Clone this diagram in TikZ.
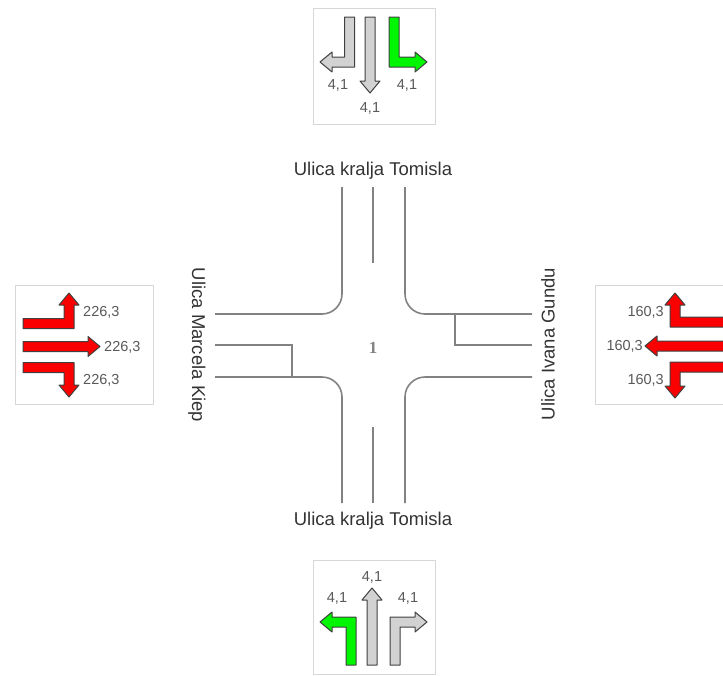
\documentclass[tikz,border=0pt]{standalone}
\usepackage{fontspec}
\setmainfont{Liberation Sans}
\newfontfamily\numfont{Liberation Serif}

\definecolor{roadgray}{RGB}{130,130,130}
\definecolor{boxgray}{RGB}{215,215,215}
\definecolor{lanegray}{RGB}{210,210,210}
\definecolor{lanegreen}{RGB}{0,245,0}
\definecolor{lanered}{RGB}{250,0,0}

\tikzset{
    road/.style={draw=roadgray, line width=1.6pt, rounded corners=20pt},
    lane/.style={draw=black!75, line width=1pt, line join=round},
    phasebox/.style={draw=boxgray, line width=1pt},
    street/.style={font=\fontsize{18.5}{21}\selectfont, text=black!80},
    flow/.style={font=\fontsize{14.5}{17}\selectfont, text=black!65, inner sep=0pt},
}

% straight lane arrow along +x, length #2
\newcommand{\lanestraight}[2]{\draw[lane,#1] (0,-5) -- ({#2-12},-5) -- ({#2-12},-10) -- (#2,0) -- ({#2-12},10) -- ({#2-12},5) -- (0,5) -- cycle;}
% turning lane arrow: #2 along +x, then #3 along +y
\newcommand{\laneturn}[3]{\draw[lane,#1] (0,-5) -- ({#2+5},-5) -- ({#2+5},{#3-12}) -- ({#2+10},{#3-12}) -- (#2,#3) -- ({#2-10},{#3-12}) -- ({#2-5},{#3-12}) -- ({#2-5},5) -- (0,5) -- cycle;}

\begin{document}
\begin{tikzpicture}[x=1pt, y=-1pt]
                \useasboundingbox (0,0) rectangle (723,675);
                \clip (0,0) rectangle (723,675);

                % roads
                \draw[road] (215,314) -- (342,314) -- (342,187);
                \draw[road] (405,187) -- (405,314) -- (532,314);
                \draw[road] (215,377) -- (342,377) -- (342,503);
                \draw[road] (532,377) -- (405,377) -- (405,503);
                \draw[road] (373,187) -- (373,263);
                \draw[road] (373,427) -- (373,503);
                \draw[road, rounded corners=0pt] (215,345) -- (292,345) -- (292,377);
                \draw[road, rounded corners=0pt] (455,314) -- (455,345) -- (532,345);

                \node[text=roadgray, font=\numfont\bfseries\fontsize{17}{19}\selectfont] (junction) at (373,348) {1};

                \node[street] (streetn) at (373,171) {Ulica kralja Tomisla};
                \node[street] (streets) at (373,521) {Ulica kralja Tomisla};
                \node[street, rotate=-90] (streetw) at (197,345) {Ulica Marcela Kiep};
                \node[street, rotate=90] (streete) at (548,344) {Ulica Ivana Gundu};

                % phase boxes
                \draw[phasebox] (313,8) rectangle (435,124);
                \draw[phasebox] (15,285) rectangle (153,404);
                \draw[phasebox] (595,285) rectangle (740,404);
                \draw[phasebox] (313,560) rectangle (435,674);

                % north approach
                \laneturn{fill=lanegray, shift={(349.5,17)}, rotate=-90}{45}{29.5}
                \lanestraight{fill=lanegray, shift={(370,17)}, rotate=-90}{76}
                \laneturn{fill=lanegreen, shift={(394,17)}, rotate=-90, yscale=-1}{45}{33}
                \node[flow] (flown1) at (338,85) {4,1};
                \node[flow] (flown2) at (370,108) {4,1};
                \node[flow] (flown3) at (407,85) {4,1};

                % west approach
                \laneturn{fill=lanered, shift={(23,323.5)}, yscale=-1}{46}{30.5}
                \lanestraight{fill=lanered, shift={(23,346.5)}}{77}
                \laneturn{fill=lanered, shift={(23,367.5)}}{46}{29.5}
                \node[flow, anchor=west] (floww1) at (83,312) {226,3};
                \node[flow, anchor=west] (floww2) at (104,347) {226,3};
                \node[flow, anchor=west] (floww3) at (83,380) {226,3};

                % east approach
                \laneturn{fill=lanered, shift={(730,322)}, rotate=180}{55}{29}
                \lanestraight{fill=lanered, shift={(730,346)}, rotate=180}{85}
                \laneturn{fill=lanered, shift={(730,367)}, rotate=180, yscale=-1}{55}{31}
                \node[flow, anchor=east] (flowe1) at (664,312) {160,3};
                \node[flow, anchor=east] (flowe2) at (643,346) {160,3};
                \node[flow, anchor=east] (flowe3) at (664,380) {160,3};

                % south approach
                \laneturn{fill=lanegreen, shift={(351,665)}, rotate=90, yscale=-1}{43}{31}
                \lanestraight{fill=lanegray, shift={(372,665)}, rotate=90}{77}
                \laneturn{fill=lanegray, shift={(395,665)}, rotate=90}{43}{32}
                \node[flow] (flows1) at (337,598) {4,1};
                \node[flow] (flows2) at (372,577) {4,1};
                \node[flow] (flows3) at (408,598) {4,1};
\end{tikzpicture}
\end{document}
